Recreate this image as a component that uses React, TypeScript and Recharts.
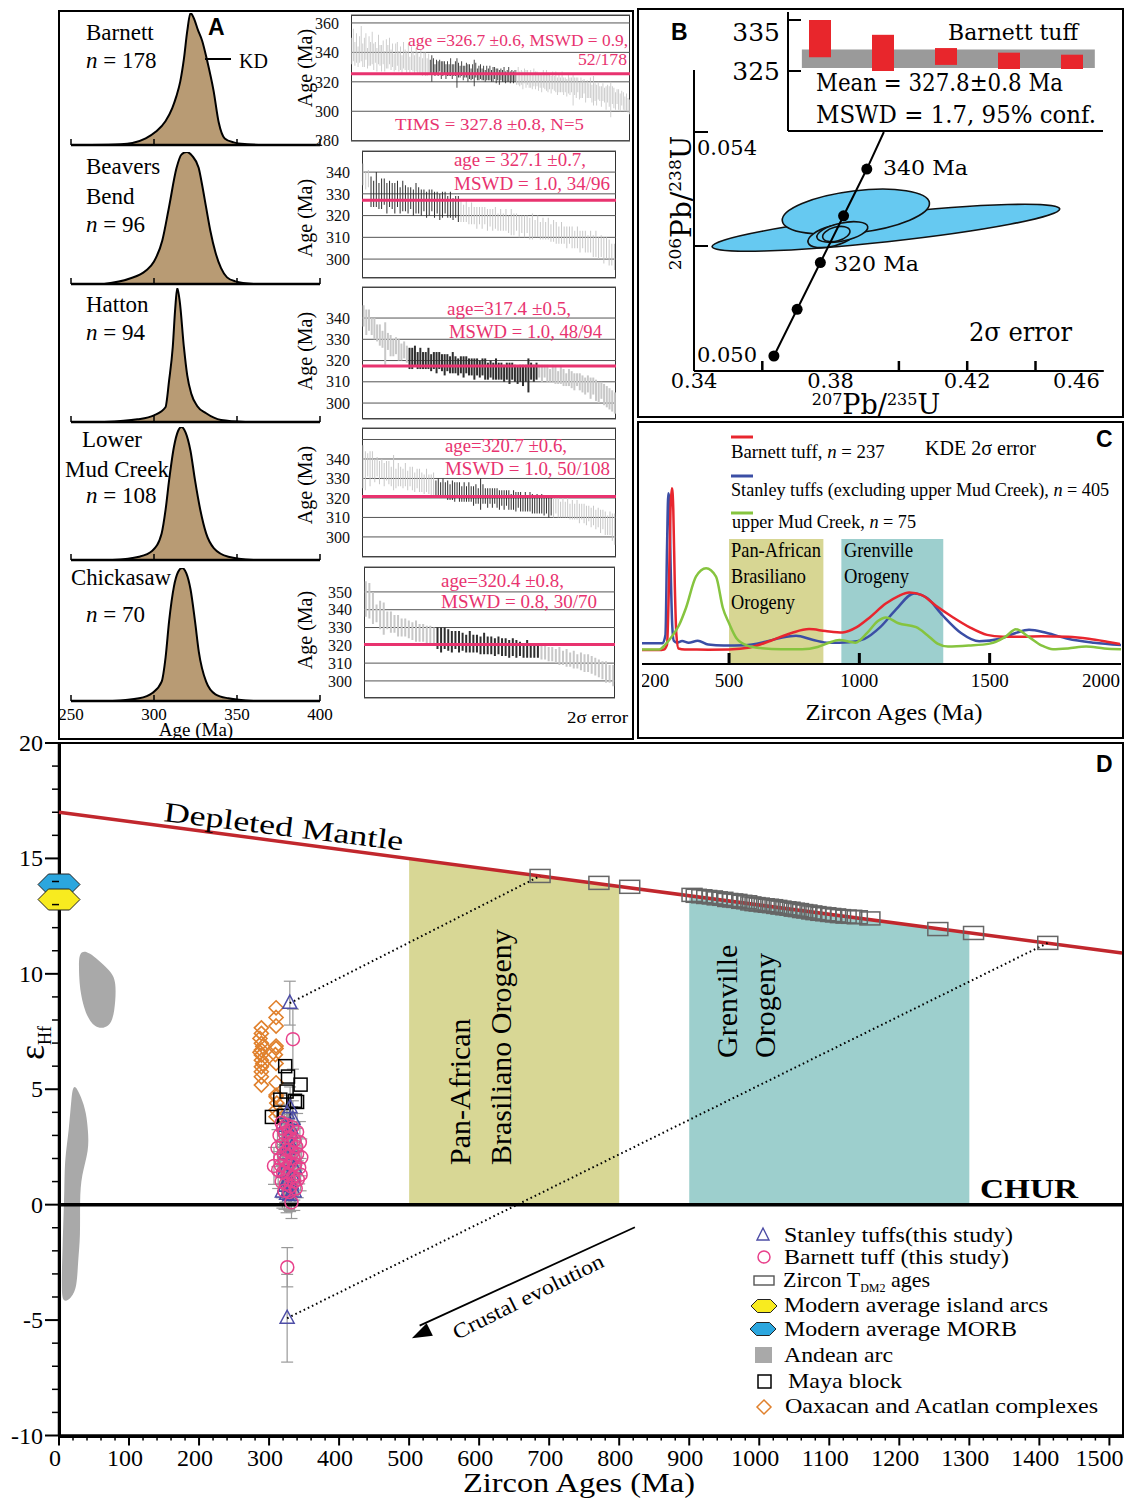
import React from 'react';
import {
  AreaChart, Area, BarChart, Bar, Cell, LineChart, Line, ScatterChart, Scatter,
  XAxis, YAxis, CartesianGrid, ReferenceLine, ReferenceArea, ErrorBar,
} from 'recharts';

const SERIF = '"Liberation Serif", "Times New Roman", serif';
const SANS = '"Liberation Sans", Arial, sans-serif';
const WIDE = '"DejaVu Serif", serif';

type Pt = [number, number];

// ---------- A: kernel density (age Ma, relative density)
const kdeBarnett: Pt[] = [[262,0],[280,0.005],[287,0.015],[295,0.05],[301,0.1],[306.9,0.18],[311,0.28],[313.5,0.37],[315.8,0.48],[318,0.65],[320,0.86],[322,1],[324,0.96],[326.5,0.87],[329,0.79],[332,0.64],[335.9,0.41],[339,0.17],[342.6,0.05],[348,0.02],[356,0.006],[366,0]];
const kdeBeavers: Pt[] = [[270,0],[285,0.04],[295,0.1],[300,0.17],[305,0.33],[309,0.58],[313.6,0.88],[316.5,0.98],[319.8,1],[323,0.97],[326.9,0.88],[329,0.75],[331.4,0.58],[334,0.4],[337,0.24],[340.4,0.12],[344,0.05],[349,0.02],[360,0]];
const kdeHatton: Pt[] = [[270,0],[290,0.02],[300,0.05],[306.9,0.11],[309.1,0.31],[311.3,0.56],[312.8,0.85],[314,1],[315.5,0.9],[318,0.56],[320,0.35],[322.5,0.21],[326,0.12],[331.4,0.065],[340.4,0.015],[355,0]];
const kdeLowerMud: Pt[] = [[275,0],[291,0.025],[299,0.07],[304.6,0.2],[307,0.38],[309.1,0.6],[312,0.85],[314.5,0.97],[316.5,1],[319,0.96],[322,0.82],[324.7,0.6],[328,0.37],[331.4,0.2],[336,0.09],[344.8,0.025],[360,0]];
const kdeChickasaw: Pt[] = [[275,0],[291,0.02],[299,0.06],[304.6,0.145],[307,0.33],[309.1,0.6],[312,0.86],[314.5,0.97],[316.9,1],[319.5,0.96],[322,0.84],[324.7,0.6],[327,0.37],[331.4,0.145],[337,0.05],[344.8,0.02],[360,0]];
const kdeTicks = [250, 300, 350, 400];

// ---------- A: ranked single-grain ages (centre, 2 sigma half-width) and grains used in the mean
const barnettAges = [341,345,339,343,337,342,346,338,340,344,336,341,339,343,337,340,335,342,338,336,340,334,339,337,341,335,338,333,337,339,334,336,332,338,335,333,337,331,336,334,332,335,333,331,334,330,333,332,330,332,
  330,329,331,328,330,329,331,328,329,330,327,329,328,330,327,328,329,326,328,327,329,326,327,328,326,327,325,327,326,328,325,326,327,325,326,324,326,325,326,324,325,326,324,325,323,325,324,325,323,324,325,323,324,323,324,
  323,324,322,323,321,324,322,323,321,322,320,323,321,322,320,321,319,322,320,321,319,320,318,321,319,320,317,319,318,320,317,318,316,319,317,318,315,317,316,318,314,316,315,317,313,315,314,316,312,314,313,311,314,312,310,313,311,309,312,310,308,311,309,307,310,308,306,309,307,305,306,304,303];
const barnettErr = [9,11,8,10,7,9,12,8,10,9,7,10,8,11,9,7,8,10,7,9,8,7,10,8,9,7,8,6,9,8,7,8,6,9,7,8,9,6,8,7,6,8,7,6,8,6,7,8,6,7,
  5,9,5,4,5,5,4,6,5,4,5,5,4,6,5,4,5,10,5,4,5,5,4,5,6,5,4,5,9,5,4,5,5,4,5,4,5,4,5,4,5,4,5,4,5,4,4,5,4,4,5,4,4,4,4,
  5,6,5,5,6,5,6,5,5,6,5,6,6,5,6,5,6,6,5,7,6,5,6,6,5,7,6,6,5,7,6,5,6,7,6,5,11,6,7,5,6,7,6,5,7,6,5,7,6,10,6,7,6,5,7,6,5,8,6,7,12,6,7,6,5,7,6,5,6,5,6,5,5];
const barnettUsed = [50, 105];
const beaversAges = [339,336,337,
  331,330,332,329,330,331,328,330,329,328,330,327,329,328,327,328,326,328,327,326,327,325,326,327,325,326,324,325,326,324,325,323,324,323,
  322,321,322,320,321,320,319,320,319,320,318,319,318,319,317,318,317,318,316,317,316,317,315,316,315,316,314,315,314,315,313,314,313,314,312,313,312,311,312,311,310,311,310,309,310,308,309,308,307,308,306,307,305,306,304,305,303,302,301];
const beaversErr = [5,4,4,
  7,6,8,6,7,6,7,6,6,7,6,6,7,6,6,5,6,7,6,6,5,6,6,5,6,5,6,6,5,5,6,5,5,6,
  5,4,5,4,5,4,5,4,5,4,5,4,5,5,4,5,4,5,4,6,5,4,5,4,5,4,5,6,4,5,4,5,4,5,4,5,5,4,5,4,5,4,5,4,5,5,4,5,4,5,5,6,5,5,6,5,6,5,6];
const beaversUsed = [3, 37];
const hattonAges = [341,338,339,336,335,333,332,330,328,329,327,326,327,325,324,325,323,
  321,321,322,320,321,320,320,321,319,320,319,320,319,318,319,318,319,318,317,318,317,318,317,317,316,317,316,317,316,315,316,315,316,315,315,314,315,314,315,314,313,314,313,314,313,315,314,315,
  315,314,315,314,313,314,313,312,313,312,311,312,311,310,311,310,309,308,309,307,308,306,305,306,304,303,302,301,300];
const hattonErr = [5,6,5,4,5,4,5,4,10,4,5,4,4,5,4,4,4,
  5,5,5,4,5,4,4,5,4,4,5,4,4,5,4,4,5,4,4,4,5,4,4,4,5,4,4,4,5,4,4,4,5,4,4,4,4,5,4,4,4,4,5,4,8,4,4,4,
  3,4,3,4,3,4,4,3,4,4,3,4,4,4,3,4,4,4,4,5,4,5,5,4,5,5,5,5,5];
const hattonUsed = [17, 65];
const lowerMudAges = [336,334,337,335,337,334,336,333,335,332,334,333,331,333,330,332,331,330,332,329,331,330,328,330,329,328,327,329,327,326,327,
  325,325,324,325,324,324,323,324,323,324,323,322,323,322,323,322,321,322,321,322,322,321,320,321,320,321,320,319,320,319,320,319,318,319,318,319,318,317,318,317,318,317,316,317,316,317,316,316,315,316,
  315,316,315,314,315,314,315,313,314,313,314,312,313,312,311,312,310,311,309,310,308,309,307,306,307,305,304];
const lowerMudErr = [11,10,6,9,7,6,5,6,5,6,5,6,5,9,5,6,5,5,6,5,5,6,5,5,6,5,5,6,5,6,6,
  4,5,4,5,4,5,4,5,5,4,5,4,5,4,5,4,5,5,4,8,5,4,5,4,5,4,5,5,4,5,4,5,4,5,5,4,5,4,5,4,5,5,4,5,4,5,5,4,5,5,
  5,4,5,4,5,4,5,4,5,4,5,5,4,5,5,4,5,5,5,5,6,5,6,5,6,7,8];
const lowerMudUsed = [31, 81];
const chickasawAges = [346,345,341,338,337,335,334,333,332,331,330,330,329,328,328,327,327,326,326,325,
  324,323,324,323,322,323,322,322,321,322,321,321,320,321,320,320,319,320,319,319,318,319,318,318,317,318,317,317,317,
  316,316,315,315,314,314,313,313,312,312,311,311,310,310,309,308,307,306,305,304,303];
const chickasawErr = [10,10,9,5,8,9,5,6,5,6,5,5,5,5,6,5,5,5,5,5,
  6,7,6,6,6,5,6,5,5,6,5,5,5,6,5,5,5,5,5,5,5,5,5,4,4,5,4,4,4,
  4,4,4,4,4,5,4,5,4,5,4,5,5,5,5,5,5,5,6,5,6];
const chickasawUsed = [20, 49];

// ---------- B: concordia (207Pb/235U, 206Pb/238U)
const concordiaDots: Pt[] = [[0.3634,0.05007],[0.3702,0.05089],[0.377,0.05171],[0.3838,0.05253],[0.3906,0.05335]];
const concordiaTrace: Pt[] = [[0.3634,0.05007],[0.3702,0.05089],[0.377,0.05171],[0.3838,0.05253],[0.3906,0.05335],[0.3956,0.0540]];
// centre x, centre y, semi-major (x units), semi-minor (y units), tilt (deg)
const ellipses = [
  { x: 0.3962, y: 0.05232, a: 0.0512, b: 0.000246, t: -6.2 },
  { x: 0.3874, y: 0.0526, a: 0.0217, b: 0.000368, t: -7 },
  { x: 0.3805, y: 0.052175, a: 0.00734, b: 0.000175, t: -15 },
  { x: 0.38343, y: 0.052246, a: 0.0076, b: 0.000158, t: -12 },
  { x: 0.38167, y: 0.05221, a: 0.0041, b: 0.000123, t: -15 },
];
const bTicksX = [0.34, 0.36, 0.38, 0.4, 0.42, 0.44, 0.46];
const bLabelsX = [0.34, 0.38, 0.42, 0.46];
const bTicksY = [0.05, 0.052, 0.054];
const timsRanges: Pt[] = [[327.7,335],[325,332.1],[326.2,329.5],[325.4,328.6],[325.4,328.2]];
const timsBand: Pt = [325.6, 329.2];

// ---------- C: KDE of detrital ages (Ma, density)
const cBarnett: Pt[] = [[166,0.072],[230,0.072],[250,0.075],[262,0.1],[270,0.45],[276,0.82],[281,0.906],[286,0.8],[292,0.4],[298,0.15],[306,0.08],[330,0.075],[420,0.074],[500,0.075],[580,0.085],[660,0.12],[740,0.16],[807,0.18],[870,0.17],[936,0.163],[990,0.19],[1040,0.24],[1100,0.31],[1150,0.35],[1191,0.368],[1240,0.355],[1294,0.3],[1360,0.24],[1422,0.19],[1490,0.15],[1550,0.141],[1620,0.14],[1700,0.143],[1800,0.14],[1880,0.13],[1950,0.115],[2000,0.103]];
const cStanley: Pt[] = [[166,0.107],[245,0.107],[256,0.15],[262,0.6],[267,0.88],[271,0.85],[276,0.5],[282,0.2],[288,0.12],[300,0.11],[320,0.118],[345,0.11],[380,0.12],[420,0.1],[480,0.095],[560,0.097],[640,0.115],[700,0.135],[757,0.145],[820,0.125],[884,0.109],[960,0.112],[1020,0.13],[1080,0.19],[1140,0.28],[1210,0.364],[1260,0.34],[1320,0.25],[1390,0.16],[1460,0.117],[1540,0.13],[1600,0.16],[1651,0.177],[1720,0.16],[1800,0.13],[1900,0.11],[2004,0.098]];
const cUpperMud: Pt[] = [[166,0.075],[232,0.075],[255,0.1],[285,0.15],[308,0.2],[335,0.29],[373,0.45],[412,0.493],[450,0.45],[476,0.29],[500,0.21],[530,0.13],[570,0.095],[620,0.082],[700,0.076],[780,0.076],[840,0.088],[880,0.108],[923,0.124],[985,0.11],[1030,0.16],[1070,0.22],[1102,0.24],[1150,0.21],[1218,0.19],[1260,0.15],[1300,0.105],[1340,0.09],[1420,0.095],[1500,0.105],[1560,0.14],[1601,0.179],[1650,0.14],[1700,0.095],[1743,0.076],[1800,0.08],[1870,0.09],[1940,0.08],[2004,0.076]];
const cTicks = [200, 500, 1000, 1500, 2000];
const panAfrican: Pt = [500, 862];
const grenville: Pt = [931, 1322];
const bandTop = 0.644;

// ---------- D: epsilon Hf vs age
const depletedMantle: Pt[] = [[0,17],[1518,10.9]];
const chur: Pt[] = [[0,0],[1518,0]];
const panAfricanPoly: Pt[] = [[500,0],[500,14.99],[800,13.79],[800,0]];
const grenvillePoly: Pt[] = [[900,0],[900,13.38],[1300,11.78],[1300,0]];
const andeanUpper: Pt[] = [[29.6,10.95],[41,11.03],[72.4,10.16],[82.4,9.73],[79.6,8.3],[72.4,7.7],[55.3,7.6],[41,8.0],[29.6,9.16],[28,10.47]];
const andeanLower: Pt[] = [[21,5.31],[32,4.66],[39,3.97],[41.4,3.23],[42.9,2.36],[32,1.28],[29.6,0.2],[30.6,-1.41],[27.1,-2.41],[25.7,-3.58],[17.7,-4.05],[5.7,-4.27],[3.4,-3.71],[4.9,-1.97],[8.1,0.93],[8.1,1.93],[14.3,3.23],[17.7,4.66]];
const tdm2Ages: Pt[] = [[687,14.24],[771,13.94],[815,13.77],[904,13.42],[910,13.38],[918,13.36],[925,13.33],[933,13.31],[940,13.27],[948,13.25],[955,13.2],[962,13.18],[968,13.16],[975,13.12],[982,13.1],[988,13.05],[994,13.02],[1000,13.0],[1007,12.97],[1013,12.95],[1019,12.93],[1025,12.9],[1031,12.87],[1038,12.84],[1044,12.82],[1050,12.78],[1056,12.76],[1062,12.72],[1068,12.7],[1075,12.66],[1081,12.63],[1088,12.6],[1095,12.58],[1102,12.55],[1109,12.53],[1116,12.5],[1124,12.48],[1132,12.47],[1140,12.45],[1158,12.4],[1255,11.94],[1306,11.77],[1412,11.34]];
const tdmLinkA: Pt[] = [[329.6,8.73],[687,14.24]];
const tdmLinkB: Pt[] = [[325.8,-4.92],[1412,11.34]];
const crustalArrow: Pt[] = [[822.4,-0.98],[515,-5.24]];
const crustalTip: Pt[] = [[503.9,-5.79]];
const stanleyHf = [[329.6,8.73,0.95],[325.8,-4.92,1.9],[330,4.2,0.9],[326,3.95,0.8],[334,3.7,0.8],[322,3.4,0.7],[330,3.1,0.8],[327,2.8,0.7],[333,2.5,0.8],[324,2.2,0.7],[329,1.9,0.8],[336,1.6,0.7],[321,1.4,0.8],[327,1.1,0.7],[332,0.9,0.8],[319,0.55,0.7],[325,0.45,0.8],[330,0.4,0.7],[336,0.55,0.8],[323,0.8,0.7],[328,0.6,0.8],[334,1.2,0.7],[326,2.4,0.8],[331,3.3,0.7]];
const barnettHf = [[334,7.17,1.3],[326,-2.71,0.85],[332,0.1,0.7],[307,1.68,0.8],[318,3.55,0.8],[325,3.45,0.8],[333,3.35,0.9],[340,3.15,0.8],[315,3.0,0.8],[322,3.1,0.7],[329,2.9,0.8],[336,2.8,0.8],[344,2.7,0.9],[312,2.45,0.8],[319,2.6,0.7],[326,2.35,0.8],[333,2.25,0.8],[340,2.2,0.7],[346,2.05,0.8],[316,2.0,0.8],[323,1.9,0.7],[330,1.8,0.8],[337,1.75,0.8],[343,1.6,0.7],[313,1.5,0.8],[320,1.4,0.8],[327,1.3,0.7],[334,1.2,0.8],[341,1.1,0.8],[318,1.0,0.7],[324,0.9,0.8],[331,0.8,0.8],[338,0.7,0.7],[322,0.6,0.8],[329,0.55,0.8],[335,2.0,0.7],[328,3.2,0.8],[321,2.2,0.8],[345,1.3,0.7],[317,1.7,0.8],[339,2.5,0.8],[325,1.6,0.7],[332,2.6,0.8],[336,1.0,0.8],[320,3.3,0.7]];
const oaxacanHf: Pt[] = [[289,7.66],[289,7.42],[289,6.99],[289,6.7],[289,6.48],[289,6.26],[289,5.97],[289,5.76],[289,5.54],[289,5.18],[291,6.85],[291,6.1],[287,7.2],[287,6.6],[310,8.53],[310,8.11],[310,7.74],[310,6.87],[310,6.77],[310,6.12],[310,5.28],[310,4.75],[310,4.67],[310,4.1],[310,3.81],[309,6.5],[311,4.4]];
const mayaHf: Pt[] = [[323,6.0],[327,5.55],[345,5.2],[325,4.9],[337,4.5],[340,4.45],[316,4.55],[304,3.8],[321,3.85]];
const morb: Pt[] = [[0,13.87]];
const islandArcs: Pt[] = [[0,13.22]];
const dMajorX = [0,100,200,300,400,500,600,700,800,900,1000,1100,1200,1300,1400,1500];
const dTicksX = Array.from({ length: 76 }, (_, i) => i * 20);
const dTicksY = Array.from({ length: 31 }, (_, i) => i - 10);

const xy = (pts: Pt[]) => pts.map(([x, y]) => ({ x, y }));
const xye = (pts: number[][]) => pts.map(([x, y, e]) => ({ x, y, e }));

// ---------- ticks and shapes
const Nothing = () => <g />;

const kdeTick = (labels: boolean) => (p: any) => (
  <g>
    <line x1={p.x} x2={p.x} y1={p.y} y2={p.y - 6} stroke="#000" strokeWidth={1.5} />
    {labels ? <text x={p.x} y={p.y + 19} textAnchor="middle" fontSize={17} fontFamily={SERIF}>{p.payload.value}</text> : null}
  </g>
);

const BTickX = (p: any) => {
  const v = p.payload.value;
  const lab = bLabelsX.includes(v);
  return (
    <g>
      {!lab || v === 0.42 ? <line x1={p.x} x2={p.x} y1={p.y} y2={p.y - 10} stroke="#000" strokeWidth={2.5} /> : null}
      {lab ? <text x={v === 0.46 ? p.x - 4 : p.x} y={p.y + 17} textAnchor={v === 0.46 ? 'end' : 'middle'} fontSize={21} fontFamily={WIDE}>{v.toFixed(2)}</text> : null}
    </g>
  );
};
const BTickY = (p: any) => {
  const v = p.payload.value;
  return (
    <g>
      {v !== 0.05 ? <line x1={p.x} x2={p.x + 14} y1={p.y} y2={p.y} stroke="#000" strokeWidth={2} /> : null}
      {v === 0.054 ? <text x={p.x + 3} y={p.y + 23} fontSize={21} fontFamily={WIDE}>0.054</text> : null}
      {v === 0.05 ? <text x={p.x + 3} y={p.y + 2} fontSize={21} fontFamily={WIDE}>0.050</text> : null}
    </g>
  );
};
const InsetTick = (p: any) => (
  <g>
    <line x1={p.x} x2={p.x + 13} y1={p.y} y2={p.y} stroke="#000" strokeWidth={2} />
    <text x={p.x - 8} y={p.payload.value === 335 ? p.y + 21 : p.y + 9} textAnchor="end" fontSize={25} fontFamily={WIDE}>{p.payload.value}</text>
  </g>
);
const CTick = (p: any) => {
  const v = p.payload.value;
  const mark = v === 500 || v === 1000 || v === 1500;
  return (
    <g>
      {mark ? <line x1={p.x} x2={p.x} y1={p.y} y2={p.y - 11} stroke="#000" strokeWidth={3} /> : null}
      <text x={v === 200 ? p.x + 4 : p.x} y={p.y + 23} textAnchor={v === 2000 ? 'end' : 'middle'} fontSize={19} fontFamily={SERIF}>{v}</text>
    </g>
  );
};
const DTickX = (p: any) => {
  const v = p.payload.value;
  if (dMajorX.includes(v)) {
    return (
      <g>
        <line x1={p.x} x2={p.x} y1={p.y} y2={p.y + 10} stroke="#000" strokeWidth={2} />
        <text x={v === 1500 ? p.x - 10 : p.x - 4} y={p.y + 30} textAnchor="middle" fontSize={24} fontFamily={SERIF}>{v}</text>
      </g>
    );
  }
  return <line x1={p.x} x2={p.x} y1={p.y} y2={p.y + 5} stroke="#000" strokeWidth={1.5} />;
};
const DTickY = (p: any) => {
  const v = p.payload.value;
  if (v % 5 === 0) {
    return (
      <g>
        <line x1={p.x - 14} x2={p.x} y1={p.y} y2={p.y} stroke="#000" strokeWidth={2} />
        <text x={p.x - 16} y={p.y + 8} textAnchor="end" fontSize={24} fontFamily={SERIF}>{v}</text>
      </g>
    );
  }
  return <line x1={p.x - 7} x2={p.x} y1={p.y} y2={p.y} stroke="#000" strokeWidth={1.5} />;
};

// B plot geometry
const B = { x0: 694, x1: 1103.8, y0: 70, y1: 371, xd: [0.34, 0.46], yd: [0.049807, 0.055088] };
const bPxX = (B.x1 - B.x0) / (B.xd[1] - B.xd[0]);
const bPxY = (B.y1 - B.y0) / (B.yd[1] - B.yd[0]);
const EllipseShape = (p: any) => {
  const d = p.payload;
  return <ellipse cx={p.cx} cy={p.cy} rx={d.a * bPxX} ry={d.b * bPxY} transform={`rotate(${d.t} ${p.cx} ${p.cy})`} fill="#66c9f1" stroke="#111" strokeWidth={1.6} />;
};
const Dot5 = (p: any) => <circle cx={p.cx} cy={p.cy} r={5.5} fill="#000" />;

const Tri = (p: any) => <polygon points={`${p.cx},${p.cy - 8} ${p.cx - 7},${p.cy + 5} ${p.cx + 7},${p.cy + 5}`} fill="none" stroke="#4d4da6" strokeWidth={1.5} />;
const Circ = (p: any) => <circle cx={p.cx} cy={p.cy} r={6.5} fill="none" stroke="#e8418b" strokeWidth={1.5} />;
const Diam = (p: any) => <polygon points={`${p.cx},${p.cy - 7} ${p.cx + 7},${p.cy} ${p.cx},${p.cy + 7} ${p.cx - 7},${p.cy}`} fill="none" stroke="#e0802c" strokeWidth={1.6} />;
const Sq = (p: any) => <rect x={p.cx - 6.5} y={p.cy - 6.5} width={13} height={13} fill="none" stroke="#000" strokeWidth={1.5} />;
const RectT = (p: any) => <rect x={p.cx - 10} y={p.cy - 6.5} width={20} height={13} fill="none" stroke="#666" strokeWidth={1.5} />;
const hexPts = (cx: number, cy: number, w: number, h: number) => `${cx - w},${cy} ${cx - w / 2},${cy - h} ${cx + w / 2},${cy - h} ${cx + w},${cy} ${cx + w / 2},${cy + h} ${cx - w / 2},${cy + h}`;
const HexBlue = (p: any) => <polygon points={hexPts(p.cx, p.cy, 21, 10.5)} fill="#2ba6de" stroke="#222" strokeWidth={1} />;
const HexYellow = (p: any) => <polygon points={hexPts(p.cx, p.cy, 21, 10.5)} fill="#f8eb1f" stroke="#222" strokeWidth={1} />;
const ArrowHead = (p: any) => <polygon points="0,0 -20,-7 -20,7" fill="#000" transform={`translate(${p.cx},${p.cy}) rotate(153.5)`} />;

function Kde({ pts, top, base, labels = false }: { pts: Pt[]; top: number; base: number; labels?: boolean }) {
  const data = pts.map(([a, d]) => ({ a, d }));
  const padT = 4, axisH = 34, x0 = 71, x1 = 320, side = 18;
  return (
    <div style={{ position: 'absolute', left: x0 - side, top: top - padT }}>
      <AreaChart width={x1 - x0 + 2 * side} height={base - top + padT + axisH} data={data} margin={{ top: padT, right: side, left: side, bottom: 0 }}>
        <XAxis dataKey="a" type="number" domain={[250, 400]} ticks={kdeTicks} interval={0} height={axisH} tickSize={0} tickMargin={0} tickLine={false}
          axisLine={{ stroke: '#000', strokeWidth: 2.5 }} tick={kdeTick(labels)} allowDataOverflow />
        <YAxis hide type="number" domain={[0, 1]} allowDataOverflow />
        <Area type="monotone" dataKey="d" stroke="#000" strokeWidth={2} fill="#b89b74" fillOpacity={1} isAnimationActive={false} />
      </AreaChart>
    </div>
  );
}

function AgePlot({ ages, errs, used, mean, x0, x1, y0, y1, domain, ticks, blank = [] }: any) {
  const data = ages.map((m: number, i: number) => {
    const e = errs[i] ?? 5;
    return { i, r: [m - e, m + e], u: i >= used[0] && i < used[1] };
  });
  const padL = 50, padV = 12;
  return (
    <>
      <div style={{ position: 'absolute', left: x0, top: y0, width: x1 - x0, height: y1 - y0, border: '1.5px solid #333', boxSizing: 'border-box' }} />
      <div style={{ position: 'absolute', left: x0 - padL, top: y0 - padV }}>
        <BarChart width={x1 - x0 + padL} height={y1 - y0 + 2 * padV} data={data} margin={{ top: padV, right: 0, bottom: padV, left: 0 }} barCategoryGap="22%">
          <CartesianGrid vertical={false} stroke="#555" strokeWidth={1} />
          <XAxis dataKey="i" hide />
          <YAxis type="number" domain={domain} ticks={ticks} interval={0} width={padL} tickLine={false} axisLine={false} tickMargin={6}
            tick={{ fontSize: 16, fill: '#111', fontFamily: SERIF }} tickFormatter={(v: number) => (blank.includes(v) ? '' : String(v))} allowDataOverflow />
          <Bar dataKey="r" isAnimationActive={false}>
            {data.map((d: any) => <Cell key={d.i} fill={d.u ? '#2e2e2e' : '#c8c8c8'} />)}
          </Bar>
          <ReferenceLine y={mean} stroke="#e8336f" strokeWidth={3} />
        </BarChart>
      </div>
    </>
  );
}

function PanelB() {
  const padL = B.x0 - 637, padT = 10, padR = 10, axisH = 30;
  return (
    <div style={{ position: 'absolute', left: 637, top: B.y0 - padT }}>
      <ScatterChart width={B.x1 - B.x0 + padL + padR} height={B.y1 - B.y0 + padT + axisH} margin={{ top: padT, right: padR, bottom: 0, left: 0 }}>
        <XAxis type="number" dataKey="x" domain={B.xd} ticks={bTicksX} interval={0} height={axisH} tickSize={0} tickMargin={0} tickLine={false}
          axisLine={{ stroke: '#000', strokeWidth: 2 }} tick={BTickX} />
        <YAxis type="number" dataKey="y" domain={B.yd} ticks={bTicksY} interval={0} width={padL} tickSize={0} tickMargin={0} tickLine={false}
          axisLine={{ stroke: '#000', strokeWidth: 2 }} tick={BTickY} />
        <Scatter data={ellipses} shape={EllipseShape} isAnimationActive={false} />
        <Scatter data={xy(concordiaTrace)} line={{ stroke: '#000', strokeWidth: 2 }} shape={Nothing} isAnimationActive={false} />
        <Scatter data={xy(concordiaDots)} shape={Dot5} isAnimationActive={false} />
      </ScatterChart>
    </div>
  );
}

function InsetB() {
  const data = timsRanges.map((r, i) => ({ x: i + 1, r }));
  const padL = 66;
  return (
    <div style={{ position: 'absolute', left: 788 - padL, top: 2 }}>
      <BarChart width={315 + padL + 4} height={131} data={data} margin={{ top: 10, right: 4, bottom: 0, left: 0 }}>
        <XAxis type="number" dataKey="x" domain={[0.5, 5.5]} ticks={[]} height={2} tick={false} tickLine={false} axisLine={{ stroke: '#000', strokeWidth: 2 }} allowDataOverflow />
        <YAxis type="number" domain={[313.24, 336.57]} ticks={[325, 335]} interval={0} width={padL} tickSize={0} tickMargin={0} tickLine={false}
          axisLine={{ stroke: '#000', strokeWidth: 2 }} tick={InsetTick} allowDataOverflow />
        <ReferenceArea x1={0.72} x2={5.37} y1={timsBand[0]} y2={timsBand[1]} fill="#9a9a9a" fillOpacity={1} stroke="none" />
        <Bar dataKey="r" barSize={22} fill="#e8262c" isAnimationActive={false} />
      </BarChart>
    </div>
  );
}

function PanelC() {
  return (
    <div style={{ position: 'absolute', left: 642, top: 460 }}>
      <LineChart width={485} height={244} margin={{ top: 10, right: 6, left: 0, bottom: 0 }}>
        <XAxis type="number" dataKey="x" domain={[166, 2004]} ticks={cTicks} interval={0} height={40} tickSize={0} tickMargin={0} tickLine={false}
          axisLine={{ stroke: '#000', strokeWidth: 2 }} tick={CTick} allowDataOverflow />
        <YAxis hide type="number" domain={[0, 1]} allowDataOverflow />
        <ReferenceArea x1={panAfrican[0]} x2={panAfrican[1]} y1={0} y2={bandTop} fill="#d7d693" fillOpacity={1} stroke="none" />
        <ReferenceArea x1={grenville[0]} x2={grenville[1]} y1={0} y2={bandTop} fill="#9dcfce" fillOpacity={1} stroke="none" />
        <Line data={xy(cStanley)} dataKey="y" type="monotone" stroke="#3b4ea5" strokeWidth={2.5} dot={false} isAnimationActive={false} />
        <Line data={xy(cBarnett)} dataKey="y" type="monotone" stroke="#e8262e" strokeWidth={2.5} dot={false} isAnimationActive={false} />
        <Line data={xy(cUpperMud)} dataKey="y" type="monotone" stroke="#86c43f" strokeWidth={2.5} dot={false} isAnimationActive={false} />
      </LineChart>
    </div>
  );
}

const D = { x0: 59, x1: 1122, y0: 743, y1: 1435.5 };
function PanelD() {
  const padT = 22, padR = 5, axisH = 45;
  return (
    <div style={{ position: 'absolute', left: 0, top: D.y0 - padT }}>
      <ScatterChart width={D.x1 + padR} height={D.y1 - D.y0 + padT + axisH} margin={{ top: padT, right: padR, bottom: 0, left: 0 }}>
        <XAxis type="number" dataKey="x" domain={[0, 1518]} ticks={dTicksX} interval={0} height={axisH} tickSize={0} tickMargin={0} tickLine={false}
          axisLine={{ stroke: '#000', strokeWidth: 2.5 }} tick={DTickX} />
        <YAxis type="number" dataKey="y" domain={[-10, 20]} ticks={dTicksY} interval={0} width={D.x0} tickSize={0} tickMargin={0} tickLine={false}
          axisLine={{ stroke: '#000', strokeWidth: 2.5 }} tick={DTickY} />
        <Scatter data={xy(panAfricanPoly)} line={{ fill: '#d8d795', stroke: 'none' }} lineJointType="linearClosed" shape={Nothing} isAnimationActive={false} />
        <Scatter data={xy(grenvillePoly)} line={{ fill: '#9dcfcd', stroke: 'none' }} lineJointType="linearClosed" shape={Nothing} isAnimationActive={false} />
        <Scatter data={xy(andeanUpper)} line={{ fill: '#a9a9a9', stroke: 'none' }} lineJointType="basisClosed" shape={Nothing} isAnimationActive={false} />
        <Scatter data={xy(andeanLower)} line={{ fill: '#a9a9a9', stroke: 'none' }} lineJointType="basisClosed" shape={Nothing} isAnimationActive={false} />
        <Scatter data={xy(chur)} line={{ stroke: '#000', strokeWidth: 3.5 }} shape={Nothing} isAnimationActive={false} />
        <Scatter data={xy(depletedMantle)} line={{ stroke: '#c1272d', strokeWidth: 3.5 }} shape={Nothing} isAnimationActive={false} />
        <Scatter data={xy(tdmLinkA)} line={{ stroke: '#000', strokeWidth: 2, strokeDasharray: '1.6 3' }} shape={Nothing} isAnimationActive={false} />
        <Scatter data={xy(tdmLinkB)} line={{ stroke: '#000', strokeWidth: 2, strokeDasharray: '1.6 3' }} shape={Nothing} isAnimationActive={false} />
        <Scatter data={xy(crustalArrow)} line={{ stroke: '#000', strokeWidth: 1.8 }} shape={Nothing} isAnimationActive={false} />
        <Scatter data={xy(crustalTip)} shape={ArrowHead} isAnimationActive={false} />
        <Scatter data={xy(tdm2Ages)} shape={RectT} isAnimationActive={false} />
        <Scatter data={xy(oaxacanHf)} shape={Diam} isAnimationActive={false} />
        <Scatter data={xy(mayaHf)} shape={Sq} isAnimationActive={false} />
        <Scatter data={xye(stanleyHf)} shape={Tri} isAnimationActive={false}>
          <ErrorBar dataKey="e" direction="y" width={6} stroke="#999" strokeWidth={1.2} />
        </Scatter>
        <Scatter data={xye(barnettHf)} shape={Circ} isAnimationActive={false}>
          <ErrorBar dataKey="e" direction="y" width={6} stroke="#999" strokeWidth={1.2} />
        </Scatter>
        <Scatter data={xy(morb)} shape={HexBlue} isAnimationActive={false} />
        <Scatter data={xy(islandArcs)} shape={HexYellow} isAnimationActive={false} />
      </ScatterChart>
    </div>
  );
}

const T = ({ x, y, s = 20, w, a = 'start', f = SERIF, b = false, c = '#000', r, children }: any) => (
  <text x={x} y={y} fontSize={s} fontFamily={f} fontWeight={b ? 'bold' : 'normal'} fill={c} textAnchor={a}
    textLength={w} lengthAdjust={w ? 'spacingAndGlyphs' : undefined}
    transform={r !== undefined ? `rotate(${r} ${x} ${y})` : undefined}>{children}</text>
);
const N = () => <tspan fontStyle="italic">n</tspan>;
const PINK = '#e8336f';

function Overlay() {
  return (
    <svg width={1127} height={1500} style={{ position: 'absolute', left: 0, top: 0, pointerEvents: 'none' }}>
      {/* A */}
      <T x={208} y={35} s={23} f={SANS} b>A</T>
      <line x1={205} x2={231} y1={59} y2={59} stroke="#000" strokeWidth={2} />
      <T x={239} y={68} s={20}>KD</T>
      <T x={86} y={40} s={23}>Barnett</T>
      <T x={86} y={68} s={23}><N /> = 178</T>
      <T x={86} y={174} s={23}>Beavers</T>
      <T x={86} y={204} s={23}>Bend</T>
      <T x={86} y={232} s={23}><N /> = 96</T>
      <T x={86} y={312} s={23}>Hatton</T>
      <T x={86} y={340} s={23}><N /> = 94</T>
      <T x={82} y={447} s={23}>Lower</T>
      <T x={65} y={477} s={23} w={104}>Mud Creek</T>
      <T x={86} y={503} s={23}><N /> = 108</T>
      <T x={71} y={585} s={23} w={100}>Chickasaw</T>
      <T x={86} y={622} s={23}><N /> = 70</T>
      <T x={196} y={736} s={19} a="middle">Age (Ma)</T>
      {[68, 218, 351, 485, 630].map((cy) => (
        <T key={cy} x={312} y={cy} s={20} a="middle" r={-90}>Age (Ma)</T>
      ))}
      <T x={408} y={46} s={17.5} c={PINK} w={220}>age =326.7 ±0.6, MSWD = 0.9,</T>
      <T x={578} y={65} s={17.5} c={PINK} w={49}>52/178</T>
      <T x={395} y={130} s={17.5} c={PINK} w={189}>TIMS = 327.8 ±0.8, N=5</T>
      <T x={454} y={166} s={18} c={PINK} w={132}>age = 327.1 ±0.7,</T>
      <T x={454} y={190} s={18} c={PINK} w={156}>MSWD = 1.0, 34/96</T>
      <T x={447} y={315} s={18} c={PINK} w={124}>age=317.4 ±0.5,</T>
      <T x={449} y={338} s={18} c={PINK} w={153}>MSWD = 1.0, 48/94</T>
      <T x={445} y={452} s={18} c={PINK} w={122}>age=320.7 ±0.6,</T>
      <T x={445} y={475} s={18} c={PINK} w={165}>MSWD = 1.0, 50/108</T>
      <T x={441} y={587} s={18} c={PINK} w={123}>age=320.4 ±0.8,</T>
      <T x={441} y={608} s={18} c={PINK} w={156}>MSWD = 0.8, 30/70</T>
      <T x={567} y={723} s={17} w={61}>2σ error</T>

      {/* B */}
      <T x={671} y={40} s={23} f={SANS} b>B</T>
      <T x={948} y={40} s={22} f={WIDE} w={130}>Barnett tuff</T>
      <T x={816} y={91} s={25} f={WIDE} w={247}>Mean = 327.8±0.8 Ma</T>
      <T x={816} y={123} s={25} f={WIDE} w={280}>MSWD = 1.7, 95% conf.</T>
      <T x={883} y={175} s={20} f={WIDE} w={85}>340 Ma</T>
      <T x={834} y={271} s={20} f={WIDE} w={85}>320 Ma</T>
      <T x={969} y={341} s={26} f={WIDE} w={103}>2σ error</T>
      <text x={876} y={414} fontSize={27} fontFamily={WIDE} textAnchor="middle">
        <tspan fontSize={16} dy={-9}>207</tspan><tspan dy={9}>Pb/</tspan><tspan fontSize={16} dy={-9}>235</tspan><tspan dy={9}>U</tspan>
      </text>
      <text x={691} y={203} fontSize={28} fontFamily={WIDE} textAnchor="middle" transform="rotate(-90 691 203)">
        <tspan fontSize={17} dy={-10}>206</tspan><tspan dy={10}>Pb/</tspan><tspan fontSize={17} dy={-10}>238</tspan><tspan dy={10}>U</tspan>
      </text>

      {/* C */}
      <T x={1096} y={447} s={23} f={SANS} b>C</T>
      <line x1={731} x2={753} y1={437} y2={437} stroke="#e8262e" strokeWidth={3} />
      <line x1={731} x2={753} y1={476} y2={476} stroke="#3b4ea5" strokeWidth={3} />
      <line x1={731} x2={753} y1={513} y2={513} stroke="#86c43f" strokeWidth={3} />
      <T x={731} y={458} s={18.8}>Barnett tuff, <N /> = 237</T>
      <T x={925} y={455} s={20} w={111}>KDE 2σ error</T>
      <T x={731} y={496} s={18.2}>Stanley tuffs (excluding upper Mud Creek), <N /> = 405</T>
      <T x={732} y={528} s={18.2}>upper Mud Creek, <N /> = 75</T>
      <T x={731} y={557} s={21} w={90}>Pan-African</T>
      <T x={731} y={583} s={21} w={75}>Brasiliano</T>
      <T x={731} y={609} s={21} w={64}>Orogeny</T>
      <T x={844} y={557} s={21} w={69}>Grenville</T>
      <T x={844} y={583} s={21} w={65}>Orogeny</T>
      <T x={894} y={720} s={24} a="middle" w={177}>Zircon Ages (Ma)</T>

      {/* D */}
      <T x={1096} y={772} s={23} f={SANS} b>D</T>
      <T x={163} y={821} s={28} w={241} r={7}>Depleted Mantle</T>
      <T x={980} y={1198} s={28} b w={98}>CHUR</T>
      <T x={470} y={1165} s={30} r={-90}>Pan-African</T>
      <T x={511} y={1165} s={30} r={-90}>Brasiliano Orogeny</T>
      <T x={737} y={1058} s={30} r={-90}>Grenville</T>
      <T x={775} y={1058} s={30} r={-90}>Orogeny</T>
      <T x={457} y={1340} s={21} w={166} r={-26.5}>Crustal evolution</T>
      <text x={44} y={1060} fontSize={36} fontFamily={SERIF} transform="rotate(-90 44 1060)">ε<tspan fontSize={18} dy={7}>Hf</tspan></text>
      <T x={579} y={1492} s={26.5} a="middle" w={232}>Zircon Ages (Ma)</T>

      {/* D legend */}
      <polygon points="763,1228 757,1240 769,1240" fill="none" stroke="#4d4da6" strokeWidth={1.4} />
      <T x={784} y={1242} s={22} w={229}>Stanley tuffs(this study)</T>
      <circle cx={764} cy={1257} r={6} fill="none" stroke="#e8418b" strokeWidth={1.5} />
      <T x={784} y={1264} s={22} w={225}>Barnett tuff (this study)</T>
      <rect x={754} y={1276} width={20} height={9} fill="none" stroke="#555" strokeWidth={1.4} />
      <text x={783} y={1287} fontSize={22} fontFamily={SERIF}>Zircon T<tspan fontSize={12} dy={5}>DM2</tspan><tspan dy={-5}> ages</tspan></text>
      <polygon points={hexPts(764, 1306, 13, 6.5)} fill="#f8eb1f" stroke="#222" strokeWidth={1} />
      <T x={784} y={1312} s={22} w={264}>Modern average island arcs</T>
      <polygon points={hexPts(763, 1329, 13, 6.5)} fill="#2ba6de" stroke="#222" strokeWidth={1} />
      <T x={784} y={1336} s={22} w={233}>Modern average MORB</T>
      <rect x={755} y={1347} width={17} height={16} fill="#a9a9a9" />
      <T x={784} y={1362} s={22} w={109}>Andean arc</T>
      <rect x={758} y={1375} width={13} height={13} fill="none" stroke="#000" strokeWidth={1.5} />
      <T x={788} y={1388} s={22} w={114}>Maya block</T>
      <polygon points="764,1400 771,1407 764,1414 757,1407" fill="none" stroke="#e0802c" strokeWidth={1.5} />
      <T x={785} y={1413} s={22} w={313}>Oaxacan and Acatlan complexes</T>
    </svg>
  );
}

const frame = (left: number, top: number, width: number, height: number) => (
  <div style={{ position: 'absolute', left, top, width, height, border: '2px solid #000', boxSizing: 'border-box' }} />
);

export default function App() {
  return (
    <div style={{ position: 'absolute', left: 0, top: 0, width: 1127, height: 1500, background: '#fff', fontFamily: SERIF, overflow: 'hidden' }}>
      {frame(58, 10, 576, 730)}
      {frame(637, 8, 487, 410)}
      {frame(637, 421, 487, 318)}
      {frame(59, 742, 1065, 696)}

      <Kde pts={kdeBarnett} top={13} base={145} />
      <Kde pts={kdeBeavers} top={152} base={284} />
      <Kde pts={kdeHatton} top={288} base={422} />
      <Kde pts={kdeLowerMud} top={427} base={560} />
      <Kde pts={kdeChickasaw} top={568} base={701} labels />

      <AgePlot ages={barnettAges} errs={barnettErr} used={barnettUsed} mean={325.5} x0={350.6} x1={630} y0={15} y1={141} domain={[279.8, 365.4]} ticks={[280, 300, 320, 340, 360]} />
      <AgePlot ages={beaversAges} errs={beaversErr} used={beaversUsed} mean={327.1} x0={362} x1={616} y0={151} y1={278} domain={[291.3, 349.7]} ticks={[300, 310, 320, 330, 340]} />
      <AgePlot ages={hattonAges} errs={hattonErr} used={hattonUsed} mean={317.4} x0={362} x1={616} y0={287} y1={419} domain={[292.5, 354.6]} ticks={[300, 310, 320, 330, 340]} />
      <AgePlot ages={lowerMudAges} errs={lowerMudErr} used={lowerMudUsed} mean={320.7} x0={362} x1={616} y0={428} y1={557} domain={[289.7, 355.9]} ticks={[300, 310, 320, 330, 340, 350]} blank={[350]} />
      <AgePlot ages={chickasawAges} errs={chickasawErr} used={chickasawUsed} mean={320.4} x0={364} x1={615} y0={567} y1={698} domain={[290.4, 364]} ticks={[300, 310, 320, 330, 340, 350]} />

      <PanelB />
      <InsetB />
      <PanelC />
      <PanelD />
      <Overlay />
    </div>
  );
}
